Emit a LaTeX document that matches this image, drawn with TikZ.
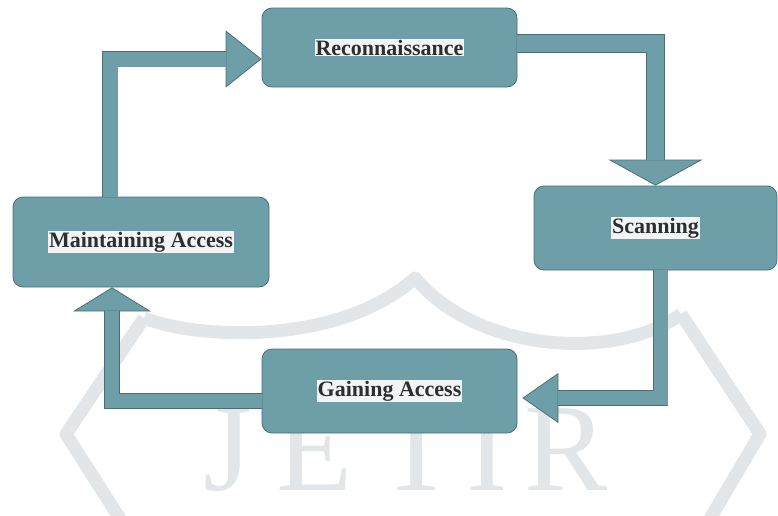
\documentclass[tikz,border=0pt]{standalone}
\usepackage{fontspec}
\setmainfont{Liberation Serif}
\usetikzlibrary{arrows.meta}

\definecolor{stagefill}{HTML}{6E9FA8}
\definecolor{stageline}{HTML}{4B6E76}
\definecolor{stagetext}{HTML}{2E2E2E}
\definecolor{hlback}{HTML}{F1F5F6}
\definecolor{wmgray}{HTML}{E2E6E9}

\newcommand\hilite[1]{{\setlength\fboxsep{1pt}\colorbox{hlback}{#1}}}
% block arrow: shaft width, head width, head length, path
\newcommand\flow[4]{%
  \draw[flowedge={#1}{#2}{#3}] #4;
  \draw[flowcore={#1}{#3}] #4;}

\tikzset{
  stage/.style n args={2}{draw=stageline, line width=0.8pt, fill=stagefill,
    rounded corners=10pt, minimum width=#1, minimum height=#2, inner sep=0pt,
    text=stagetext, font=\fontsize{22}{26}\selectfont\bfseries},
  flowedge/.style n args={3}{draw=stageline, line width=#1+1.6pt, line join=miter,
    -{Triangle[width=#2, length=#3, line width=0.8pt, fill=stagefill]}},
  flowcore/.style 2 args={draw=stagefill, line width=#1, line join=miter, shorten >=#2},
  wmletter/.style={text=wmgray, anchor=base, inner sep=0pt,
    font=\fontsize{125}{125}\selectfont},
  wmband/.style={draw=wmgray, line width=13pt, line join=round}
}

\begin{document}
\begin{tikzpicture}[x=1pt,y=-1pt]
\useasboundingbox (0,0) rectangle (778,515);

% watermark
\draw[wmband] (144,318)--(66,434)--(122,522);
\draw[wmband] (681,314)--(760,434)--(708,522);
\draw[wmband] (144,318) .. controls (200,340) and (340,345) .. (415,278)
                        .. controls (480,355) and (620,360) .. (681,314);
\foreach \ch/\x in {J/228,E/315,T/417,I/487,R/566}
{
    \node[wmletter] (wm\ch) at (\x,490) {\ch};
}

% stages
\node[stage={255pt}{79pt}] (recon) at (389.5,47.5) {\hilite{Reconnaissance}};
\node[stage={243pt}{84pt}] (scan)  at (655.5,228)  {\hilite{Scanning}};
\node[stage={255pt}{84pt}] (gain)  at (389.5,391)  {\hilite{Gaining Access}};
\node[stage={256pt}{90pt}] (maint) at (141,242)    {\hilite{Maintaining Access}};

% arrows
\flow{15pt}{57pt}{36pt}{([xshift=-31pt]maint.north) |- ([yshift=-11.5pt]recon.west)}
\flow{17pt}{94pt}{26pt}{([yshift=4pt]recon.east) -| (scan.north)}
\flow{14pt}{50pt}{36pt}{([xshift=5pt]scan.south) |- ([xshift=5pt,yshift=-7pt]gain.east)}
\flow{14pt}{78pt}{24pt}{([yshift=-10pt]gain.west) -| ([xshift=-29pt]maint.south)}

\end{tikzpicture}
\end{document}
